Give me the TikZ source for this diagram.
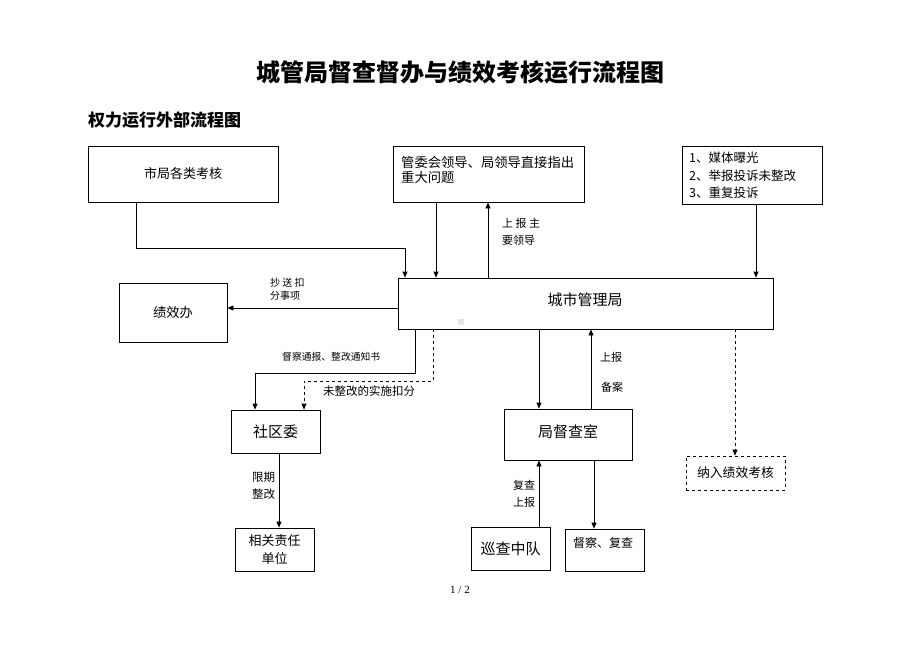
\documentclass[tikz,border=0pt]{standalone}
\usepackage{fontspec}
\setmainfont{Noto Sans CJK SC}
\newfontfamily\latserif{Liberation Serif}
\usetikzlibrary{arrows.meta}
\tikzset{
  box/.style={draw, line width=0.8pt, inner sep=0pt, rectangle},
  dbox/.style={box, dashed},
  arr/.style={line width=0.8pt, -{Triangle[length=6pt,width=5pt]}},
  lbl/.style={inner sep=0pt, align=left, anchor=west},
  ft/.style={font={\fontsize{#1}{#1*1.2}\selectfont}},
}
\begin{document}
\begin{tikzpicture}[x=1pt,y=-1pt]
\useasboundingbox (0,0) rectangle (920,651);
% titles
\node[inner sep=0pt, font={\fontsize{24}{28}\selectfont\bfseries}] (title) at (460,72) {城管局督查督办与绩效考核运行流程图};
\node[lbl, font={\fontsize{17}{20}\selectfont\bfseries}] (sub) at (88,120) {权力运行外部流程图};
% boxes
\node[box, minimum width=190pt, minimum height=56pt, font={\fontsize{13}{15}\selectfont}] (shiju) at (183,174) {市局各类考核};
\node[box, minimum width=191pt, minimum height=56pt] (gwh) at (488.5,174) {};
\node[lbl, font={\fontsize{13.3}{15}\selectfont}] (gwht) at (401,169.5) {管委会领导、局领导直接指出\\重大问题};
\node[box, minimum width=140pt, minimum height=58pt] (mt) at (752,175) {};
\node[lbl, font={\fontsize{12.5}{17.5}\selectfont}] (mtt) at (689,175.5) {1、媒体曝光\\2、举报投诉未整改\\3、重复投诉};
\node[box, minimum width=375pt, minimum height=51pt] (cgj) at (585.5,303.5) {};
\node[inner sep=0pt, font={\fontsize{15}{17}\selectfont}] (cgjt) at (585,300) {城市管理局};
\node[box, minimum width=108pt, minimum height=59pt, font={\fontsize{13.3}{15}\selectfont}] (jxb) at (173,312.5) {绩效办};
\node[box, minimum width=89pt, minimum height=43pt, font={\fontsize{15}{17}\selectfont}] (sqw) at (275.5,431.5) {社区委};
\node[box, minimum width=128pt, minimum height=51pt] (dcs) at (568,434.5) {};
\node[inner sep=0pt, font={\fontsize{15}{17}\selectfont}] (dcst) at (568,432) {局督查室};
\node[dbox, minimum width=99pt, minimum height=34pt, font={\fontsize{12.8}{15}\selectfont}] (nr) at (735.5,473) {纳入绩效考核};
\node[box, minimum width=79pt, minimum height=43pt, align=center, font={\fontsize{13}{18}\selectfont}] (xg) at (274.5,549.5) {相关责任\\单位};
\node[box, minimum width=79pt, minimum height=43pt, font={\fontsize{15}{17}\selectfont}] (xc) at (510.5,548.5) {巡查中队};
\node[box, minimum width=79pt, minimum height=42pt] (dc) at (604.5,550) {};
\node[inner sep=0pt, font={\fontsize{12}{14}\selectfont}] (dct) at (603,543) {督察、复查};
\fill[gray!20] (458,319) rectangle (464,325);
% connectors
\coordinate (j1) at (405,248);
\draw[arr] ([xshift=49pt]shiju.south west) |- (j1) -- (j1 |- cgj.north);
\draw[arr] (436,0 |- gwh.south) -- (436,0 |- cgj.north);
\draw[arr] (488,0 |- cgj.north) -- (488,0 |- gwh.south);
\draw[arr] (756,0 |- mt.south) -- (756,0 |- cgj.north);
\draw[arr] (0,308 -| cgj.west) -- (0,308 -| jxb.east);
\coordinate (k1) at (415,373);
\coordinate (k2) at (255,373);
\draw[arr] (k1 |- cgj.south) -- (k1) -- (k2) -- (k2 |- sqw.north);
\coordinate (m1) at (433,381);
\coordinate (m2) at (304,381);
\draw[arr, dashed] (m1 |- cgj.south) -- (m1) -- (m2) -- (m2 |- sqw.north);
\draw[arr] (539,0 |- cgj.south) -- (539,0 |- dcs.north);
\draw[arr] (591,0 |- dcs.north) -- (591,0 |- cgj.south);
\draw[arr, dashed] (735,0 |- cgj.south) -- (735,0 |- nr.north);
\draw[arr] (279,0 |- sqw.south) -- (279,0 |- xg.north);
\draw[arr] (539,0 |- xc.north) -- (539,0 |- dcs.south);
\draw[arr] (594,0 |- dcs.south) -- (594,0 |- dc.north);
% labels
\node[lbl, font={\fontsize{11}{17}\selectfont}] (l1) at (502,231.5) {上 报 主\\要领导};
\node[lbl, font={\fontsize{10}{13}\selectfont}] (l2) at (270,289.5) {抄 送 扣\\分事项};
\node[lbl, font={\fontsize{9.8}{12}\selectfont}] (l3) at (282,357) {督察通报、整改通知书};
\node[lbl, font={\fontsize{11.5}{14}\selectfont}] (l4) at (323,391) {未整改的实施扣分};
\node[lbl, font={\fontsize{11}{13}\selectfont}] (l5) at (600,357) {上报};
\node[lbl, font={\fontsize{11}{13}\selectfont}] (l6) at (601,387) {备案};
\node[lbl, font={\fontsize{11.5}{17}\selectfont}] (l7) at (252,485.5) {限期\\整改};
\node[lbl, font={\fontsize{11}{17}\selectfont}] (l8) at (513,493.5) {复查\\上报};
\node[inner sep=0pt, font={\latserif\fontsize{11}{13}\selectfont}] (pg) at (460,590) {1 / 2};
\end{tikzpicture}
\end{document}
